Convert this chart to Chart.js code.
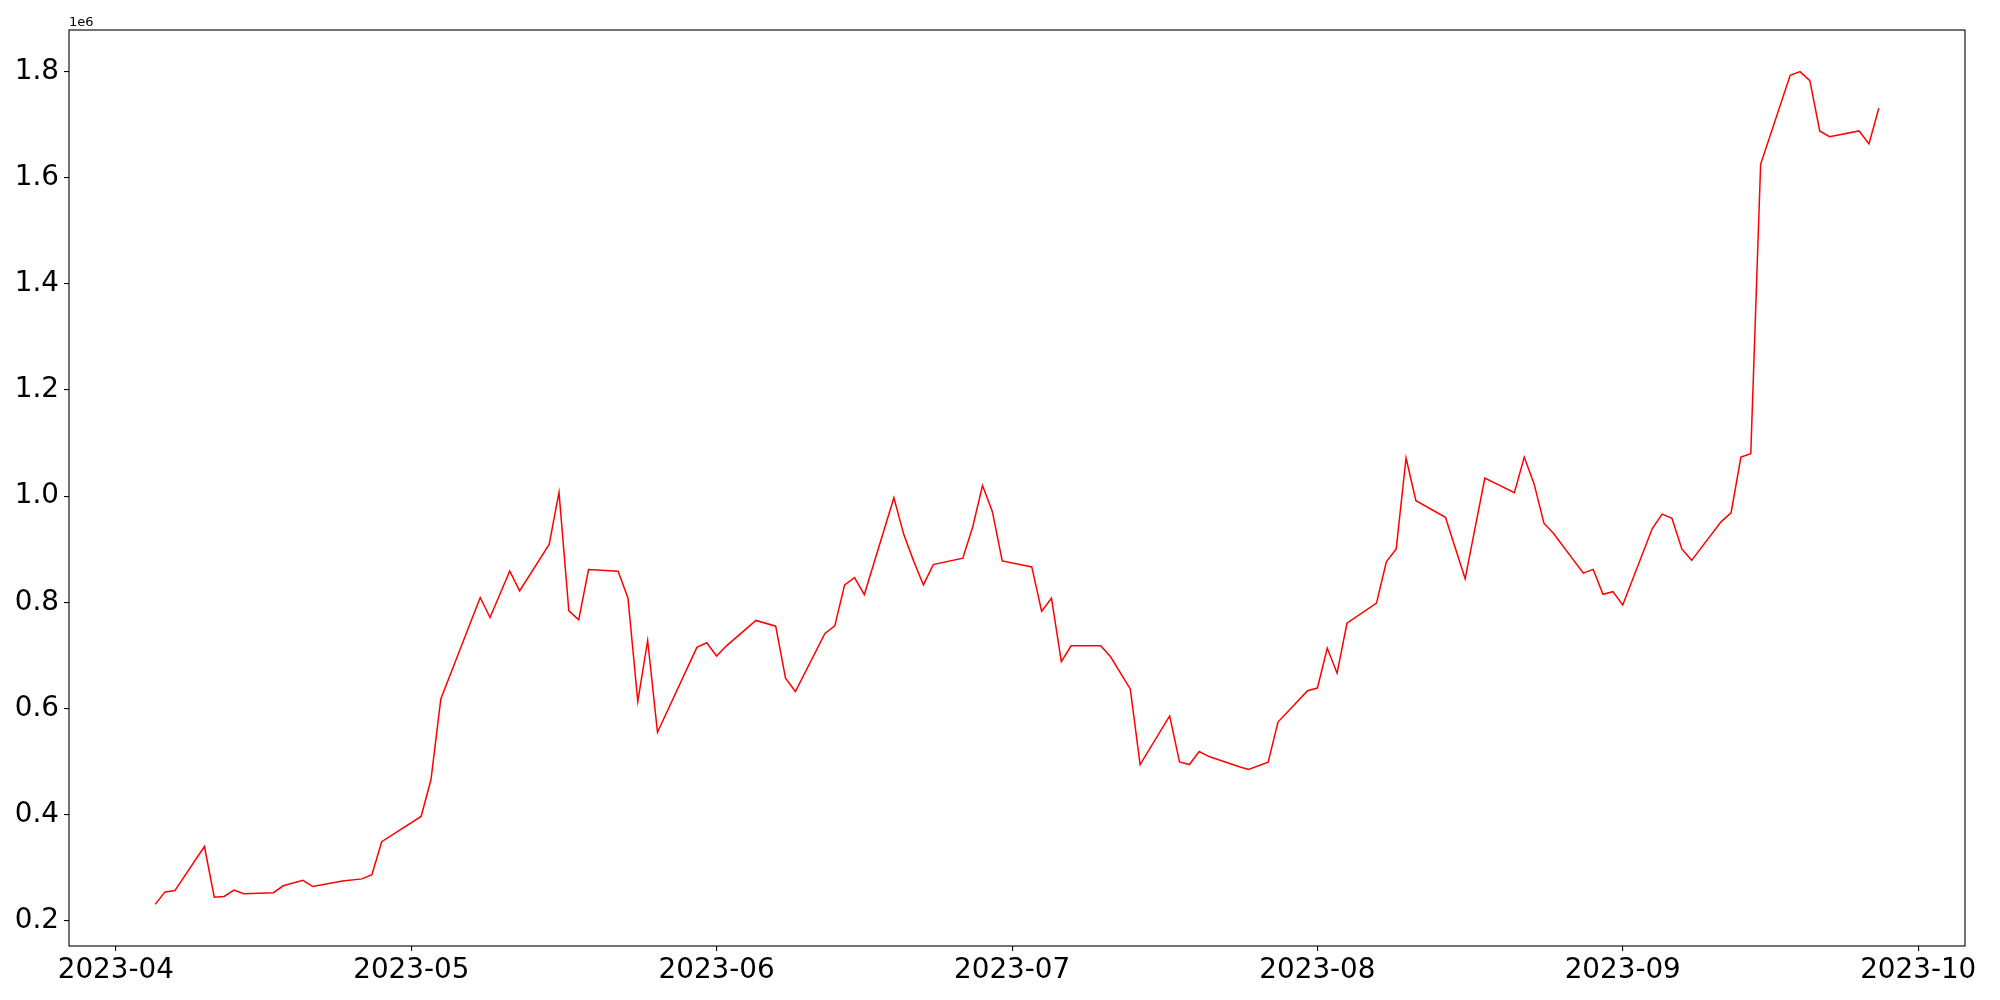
<!DOCTYPE html>
<html>
<head>
<meta charset="utf-8">
<script src="https://cdn.jsdelivr.net/npm/chart.js@4.4.0/dist/chart.umd.min.js"></script>
<style>
  html, body { margin: 0; padding: 0; background: #fff; }
</style>
</head>
<body>
<canvas id="myChart" width="2000" height="1000"></canvas>
<script>
const dates = [
  "2023-04-05", "2023-04-06", "2023-04-07", "2023-04-10", "2023-04-11", "2023-04-12",
  "2023-04-13", "2023-04-14", "2023-04-17", "2023-04-18", "2023-04-20", "2023-04-21",
  "2023-04-24", "2023-04-26", "2023-04-27", "2023-04-28", "2023-05-02", "2023-05-03",
  "2023-05-04", "2023-05-08", "2023-05-09", "2023-05-11", "2023-05-12", "2023-05-15",
  "2023-05-16", "2023-05-17", "2023-05-18", "2023-05-19", "2023-05-22", "2023-05-23",
  "2023-05-24", "2023-05-25", "2023-05-26", "2023-05-30", "2023-05-31", "2023-06-01",
  "2023-06-02", "2023-06-05", "2023-06-07", "2023-06-08", "2023-06-09", "2023-06-12",
  "2023-06-13", "2023-06-14", "2023-06-15", "2023-06-16", "2023-06-19", "2023-06-20",
  "2023-06-21", "2023-06-22", "2023-06-23", "2023-06-26", "2023-06-27", "2023-06-28",
  "2023-06-29", "2023-06-30", "2023-07-03", "2023-07-04", "2023-07-05", "2023-07-06",
  "2023-07-07", "2023-07-10", "2023-07-11", "2023-07-13", "2023-07-14", "2023-07-17",
  "2023-07-18", "2023-07-19", "2023-07-20", "2023-07-21", "2023-07-24", "2023-07-25",
  "2023-07-27", "2023-07-28", "2023-07-31", "2023-08-01", "2023-08-02", "2023-08-03",
  "2023-08-04", "2023-08-07", "2023-08-08", "2023-08-09", "2023-08-10", "2023-08-11",
  "2023-08-14", "2023-08-16", "2023-08-18", "2023-08-21", "2023-08-22", "2023-08-23",
  "2023-08-24", "2023-08-25", "2023-08-28", "2023-08-29", "2023-08-30", "2023-08-31",
  "2023-09-01", "2023-09-04", "2023-09-05", "2023-09-06", "2023-09-07", "2023-09-08",
  "2023-09-11", "2023-09-12", "2023-09-13", "2023-09-14", "2023-09-15", "2023-09-18",
  "2023-09-19", "2023-09-20", "2023-09-21", "2023-09-22", "2023-09-25", "2023-09-26",
  "2023-09-27",
];

const values = [
  231000, 254500, 257000, 340000, 244400, 246000,
  258000, 251000, 253000, 266000, 276300, 264500,
  275000, 279000, 287000, 349000, 396600, 465600,
  618000, 809000, 771400, 859000, 821500, 909000,
  1007000, 784000, 767000, 861600, 858500, 808000,
  613500, 728000, 555000, 715000, 723700, 698700,
  718000, 765800, 755000, 657000, 632000, 741400,
  755600, 832700, 846600, 814600, 997000, 928000,
  878000, 832700, 871000, 883000, 941800, 1020000,
  970600, 878000, 866600, 783300, 807700, 688000,
  718000, 718000, 697400, 636700, 494400, 586000,
  499400, 494400, 518800, 509400, 490600, 485000,
  498800, 574500, 633500, 638500, 713700, 666500,
  760500, 798500, 876300, 900600, 1071800, 991300,
  960000, 844400, 1034000, 1006400, 1073500, 1023000,
  949000, 929000, 855000, 862000, 815000, 820000,
  795000, 939000, 966000, 958000, 900600, 879000,
  952000, 968600, 1073500, 1080000, 1625000, 1792700,
  1799500, 1782600, 1687800, 1677000, 1687800, 1663500,
  1730600,
];

const yTicks = [200000, 400000, 600000, 800000, 1000000, 1200000, 1400000, 1600000, 1800000];
const xTicks = ["2023-04-01", "2023-05-01", "2023-06-01", "2023-07-01", "2023-08-01", "2023-09-01", "2023-10-01"];

const toMs = (s) => Date.parse(s + "T00:00:00Z");
const points = dates.map((d, i) => ({ x: toMs(d), y: values[i] }));

// matplotlib-like 5% data margins
const xLo = toMs(dates[0]), xHi = toMs(dates[dates.length - 1]);
const yLo = Math.min(...values), yHi = Math.max(...values);
const xPad = (xHi - xLo) * 0.05, yPad = (yHi - yLo) * 0.05;

const tickFont = { family: "DejaVu Sans", size: 27.8 };

const frame = {
  id: "frame",
  afterDraw(chart) {
    const { ctx, chartArea: a } = chart;
    ctx.save();
    ctx.strokeStyle = "#000";
    ctx.lineWidth = 1.1;
    ctx.strokeRect(a.left, a.top, a.right - a.left, a.bottom - a.top);
    ctx.font = "13px 'DejaVu Sans'";
    ctx.fillStyle = "#000";
    ctx.textAlign = "left";
    ctx.textBaseline = "alphabetic";
    ctx.fillText("1e6", a.left, a.top - 4);
    ctx.restore();
  },
};

const config = {
  type: "line",
  data: {
    datasets: [
      {
        data: points,
        borderColor: "#ff0000",
        backgroundColor: "#ff0000",
        borderWidth: 1.5,
        pointRadius: 0,
        tension: 0,
        fill: false,
      },
    ],
  },
  options: {
    responsive: false,
    animation: false,
    layout: { padding: { left: 0, top: 30, right: 35, bottom: 0 } },
    plugins: {
      legend: { display: false },
      tooltip: { enabled: false },
    },
    scales: {
      x: {
        type: "linear",
        min: xLo - xPad,
        max: xHi + xPad,
        afterBuildTicks: (s) => {
          s.ticks = xTicks.map((t) => ({ value: toMs(t) }));
        },
        afterFit: (s) => {
          s.height = 54;
        },
        grid: { drawOnChartArea: false, drawTicks: true, tickLength: 5, color: "#000", lineWidth: 1.1 },
        border: { display: false },
        ticks: {
          autoSkip: false,
          maxRotation: 0,
          padding: 3,
          color: "#000",
          font: tickFont,
          callback: (v) => {
            const d = new Date(v);
            return d.getUTCFullYear() + "-" + String(d.getUTCMonth() + 1).padStart(2, "0");
          },
        },
      },
      y: {
        type: "linear",
        min: yLo - yPad,
        max: yHi + yPad,
        afterBuildTicks: (s) => {
          s.ticks = yTicks.map((v) => ({ value: v }));
        },
        afterFit: (s) => {
          s.width = 69;
        },
        grid: { drawOnChartArea: false, drawTicks: true, tickLength: 5, color: "#000", lineWidth: 1.1 },
        border: { display: false },
        ticks: {
          padding: 5,
          color: "#000",
          font: tickFont,
          callback: (v) => (v / 1e6).toFixed(1),
        },
      },
    },
  },
  plugins: [frame],
};

const myChart = new Chart(document.getElementById("myChart"), config);
</script>
</body>
</html>
